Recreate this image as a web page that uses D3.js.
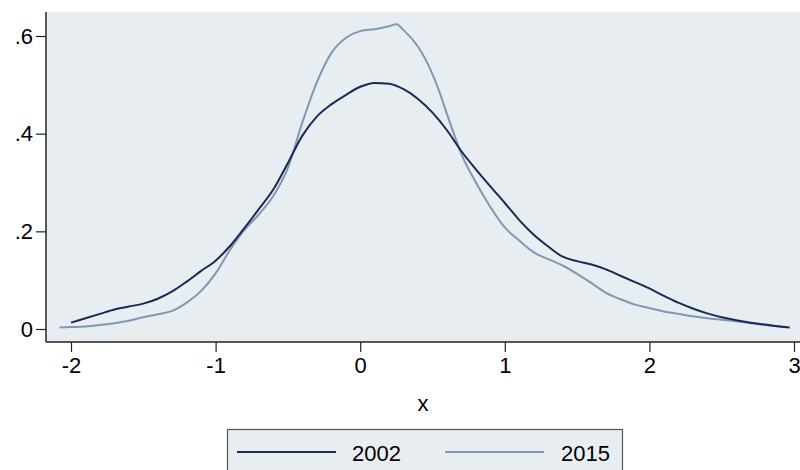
<!DOCTYPE html>
<html>
<head>
<meta charset="utf-8">
<script src="https://cdn.jsdelivr.net/npm/d3@7"></script>
<style>
  html, body { margin: 0; padding: 0; background: #fff; }
  svg { display: block; }
  text { font-family: "Liberation Sans", Arial, Helvetica, sans-serif; fill: #000; }
</style>
</head>
<body>
<svg id="chart" width="800" height="470"></svg>
<script>
// ---- data ----
const seriesNames = ["2002", "2015"];
const x2002 = [-2.0,-1.9,-1.8,-1.7,-1.6,-1.5,-1.4,-1.3,-1.2,-1.1,-1.0,-0.9,-0.8,-0.7,-0.6,-0.5,-0.4,-0.3,-0.2,-0.1,0.0,0.1,0.2,0.3,0.4,0.5,0.6,0.7,0.8,0.9,1.0,1.1,1.2,1.3,1.4,1.5,1.6,1.7,1.8,1.9,2.0,2.1,2.2,2.3,2.4,2.5,2.6,2.7,2.8,2.9,2.97];
const y2002 = [0.013,0.022,0.031,0.040,0.046,0.052,0.062,0.077,0.097,0.119,0.140,0.170,0.207,0.246,0.286,0.340,0.396,0.435,0.460,0.479,0.496,0.504,0.502,0.491,0.471,0.443,0.407,0.364,0.327,0.292,0.258,0.223,0.193,0.169,0.148,0.139,0.132,0.122,0.109,0.096,0.083,0.068,0.054,0.042,0.032,0.024,0.018,0.013,0.009,0.005,0.003];
const x2015 = [-2.08,-2.0,-1.9,-1.8,-1.7,-1.6,-1.5,-1.4,-1.3,-1.2,-1.1,-1.0,-0.9,-0.8,-0.7,-0.6,-0.5,-0.4,-0.3,-0.2,-0.1,0.0,0.1,0.2,0.25,0.3,0.4,0.5,0.55,0.6,0.65,0.7,0.8,0.9,1.0,1.1,1.2,1.3,1.4,1.5,1.6,1.7,1.8,1.9,2.0,2.1,2.2,2.3,2.4,2.5,2.6,2.7,2.8,2.95];
const y2015 = [0.003,0.004,0.005,0.008,0.012,0.017,0.024,0.030,0.037,0.054,0.078,0.114,0.162,0.203,0.235,0.273,0.330,0.423,0.505,0.565,0.596,0.610,0.614,0.620,0.624,0.612,0.578,0.522,0.484,0.440,0.398,0.358,0.300,0.250,0.208,0.181,0.157,0.143,0.130,0.113,0.094,0.074,0.061,0.050,0.043,0.036,0.031,0.026,0.022,0.019,0.016,0.012,0.008,0.004];
const xTicks = [-2,-1,0,1,2,3];
const xTickLabels = ["-2","-1","0","1","2","3"];
const yTicks = [0,0.2,0.4,0.6];
const yTickLabels = ["0",".2",".4",".6"];
const xTitle = "x";

// ---- layout ----
const svg = d3.select("#chart");
const plot = {left: 46, right: 800, top: 12, bottom: 342};
const colors = {"2002": "#1b2a54", "2015": "#7f98b3"};
const bg = "#e8edf1";
const fontSize = 22;

const x = d3.scaleLinear().domain([-2, 3]).range([71, 794]);
const y = d3.scaleLinear().domain([0, 0.6]).range([329, 36]);

// plot background
svg.append("rect")
  .attr("x", plot.left).attr("y", plot.top)
  .attr("width", plot.right - plot.left).attr("height", plot.bottom - plot.top)
  .attr("fill", bg);

// curves
const series = [
  {name: "2002", xs: x2002, ys: y2002},
  {name: "2015", xs: x2015, ys: y2015}
];
const line = d3.line().x(d => x(d[0])).y(d => y(d[1])).curve(d3.curveMonotoneX);
series.slice().reverse().forEach(s => {
  const pts = s.xs.map((v, i) => [v, s.ys[i]]);
  svg.append("path")
    .attr("d", line(pts))
    .attr("fill", "none")
    .attr("stroke", colors[s.name])
    .attr("stroke-width", 2)
    .attr("stroke-linejoin", "round");
});

// x axis
const xAxis = d3.axisBottom(x).tickValues(xTicks)
  .tickFormat((d, i) => xTickLabels[i]).tickSize(10).tickPadding(5).tickSizeOuter(0);
const gx = svg.append("g").attr("transform", `translate(0,${plot.bottom})`).call(xAxis);
gx.select(".domain").remove();
gx.selectAll(".tick line").attr("stroke", "#222").attr("stroke-width", 1.2);
gx.selectAll(".tick text").attr("font-size", fontSize)
  .attr("font-family", '"Liberation Sans", Arial, sans-serif').attr("fill", "#000");
svg.append("line").attr("x1", plot.left).attr("x2", plot.right)
  .attr("y1", plot.bottom).attr("y2", plot.bottom)
  .attr("stroke", "#222").attr("stroke-width", 1.5);

// y axis
const yAxis = d3.axisLeft(y).tickValues(yTicks)
  .tickFormat((d, i) => yTickLabels[i]).tickSize(10).tickPadding(3).tickSizeOuter(0);
const gy = svg.append("g").attr("transform", `translate(${plot.left},0)`).call(yAxis);
gy.select(".domain").remove();
gy.selectAll(".tick line").attr("stroke", "#222").attr("stroke-width", 1.2);
gy.selectAll(".tick text").attr("font-size", fontSize)
  .attr("font-family", '"Liberation Sans", Arial, sans-serif').attr("fill", "#000");
svg.append("line").attr("x1", plot.left).attr("x2", plot.left)
  .attr("y1", plot.top).attr("y2", plot.bottom)
  .attr("stroke", "#222").attr("stroke-width", 1.5);

// x title
svg.append("text").attr("x", 423).attr("y", 411)
  .attr("text-anchor", "middle").attr("font-size", fontSize).text(xTitle);

// legend
const leg = svg.append("g");
leg.append("rect").attr("x", 227.5).attr("y", 429.5).attr("width", 395).attr("height", 45)
  .attr("fill", bg).attr("stroke", "#555").attr("stroke-width", 1.2);
const legItems = [
  {name: seriesNames[0], x1: 237, x2: 336, tx: 352},
  {name: seriesNames[1], x1: 445, x2: 544, tx: 561}
];
legItems.forEach(it => {
  leg.append("line").attr("x1", it.x1).attr("x2", it.x2).attr("y1", 452).attr("y2", 452)
    .attr("stroke", colors[it.name]).attr("stroke-width", 2);
  leg.append("text").attr("x", it.tx).attr("y", 461).attr("font-size", fontSize).text(it.name);
});
</script>
</body>
</html>
